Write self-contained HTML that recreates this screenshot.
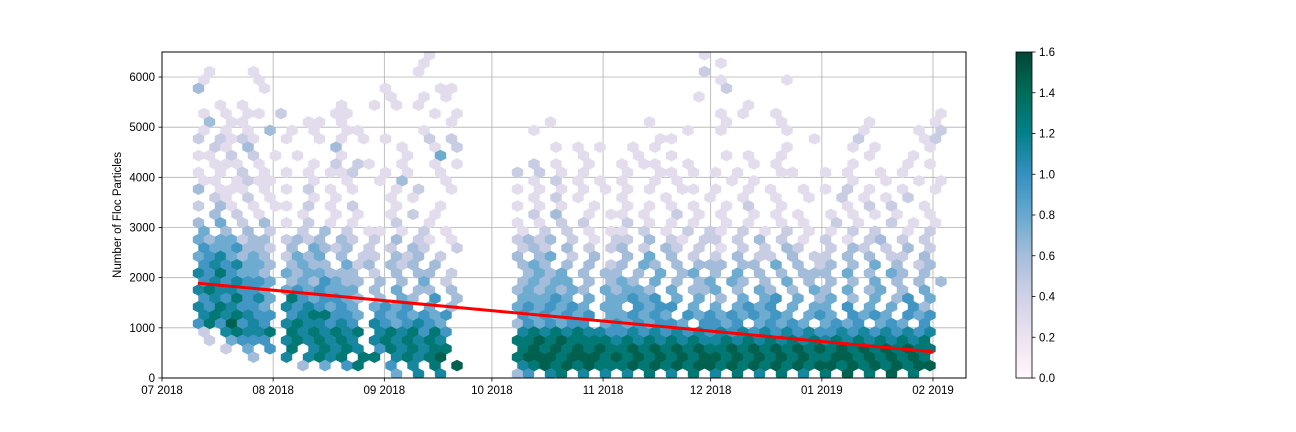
<!DOCTYPE html>
<html><head><meta charset="utf-8">
<style>
html,body{margin:0;padding:0;background:#fff;}
svg{display:block;font-family:"Liberation Sans","DejaVu Sans",sans-serif;}
</style></head>
<body>
<svg id="chart" width="1296" height="432" viewBox="0 0 1296 432" xmlns="http://www.w3.org/2000/svg">
<defs>
<linearGradient id="cmap" x1="0" y1="1" x2="0" y2="0">
<stop offset="0" stop-color="#fff7fb"/><stop offset="0.125" stop-color="#ece2f0"/><stop offset="0.25" stop-color="#d0d1e6"/><stop offset="0.375" stop-color="#a6bddb"/><stop offset="0.5" stop-color="#67a9cf"/><stop offset="0.625" stop-color="#3690c0"/><stop offset="0.75" stop-color="#02818a"/><stop offset="0.875" stop-color="#016c59"/><stop offset="1" stop-color="#014636"/>
</linearGradient>
<clipPath id="plotclip"><rect x="162" y="52" width="804" height="326"/></clipPath>
</defs>
<g id="grid"></g>
<g id="hexes" clip-path="url(#plotclip)"></g>
<g id="trend"></g>
<rect x="162" y="52" width="804" height="326" fill="none" stroke="#000" stroke-width="1"/>
<g id="axes"></g>
<text x="121" y="215" transform="rotate(-90 121 215)" text-anchor="middle" font-size="11.5">Number of Floc Particles</text>
<rect x="1016" y="52" width="16" height="326" fill="url(#cmap)" stroke="#000" stroke-width="0.8"/>
<g id="cbticks"></g>
</svg>
<script>
// ---- data ----
const xTickLabels = ["07 2018","08 2018","09 2018","10 2018","11 2018","12 2018","01 2019","02 2019"];
const xTickDays = [0,31,62,92,123,153,184,215]; // days since 2018-07-01
const yTicks = [0,1000,2000,3000,4000,5000,6000];
const cbTicks = [0.0,0.2,0.4,0.6,0.8,1.0,1.2,1.4,1.6];
const lineDays = [10,215];
const lineValues = [1890,520];
// segment widths in hex columns: Jul, Aug, Sep, gap, Oct, Nov, Dec, Jan
const segWidths = [8,8,8,5,9,9,10,11];
// hexbin rows, top (row 38) to bottom (row 0); digit d = density level, '.' = empty
const hexRows = [
"........|........|.....1..||.........|........1|..........|...........",
"........|........|....1...||.........|.........|1.........|...........",
".1...1..|........|....1...||.........|........2|..........|...........",
"1....1..|........|........||.........|.........|1.....1...|...........",
"3.....1.|........|.1....11||.........|.........|.2........|...........",
"........|........|.1..1.1.||.........|.......1.|..........|...........",
"..1.1...|.....1..|1.1.1...||.........|.........|...1......|...........",
"1.1.11.2|....11..|.....1.1||.........|.........|1.1..1....|..........1",
".3.11...|..11.1..|.......1||...1.....|...1.....|.1....1...|....1.....1",
"1.1.1.3.|1.1..11.|....1...||.1.......|......1..|1.....1...|...1....1.2",
"2.2121..|1..1.1.1|.1...2.2||.........|....11...|.........1|...2.....12",
".21.3...|....3...|..1..1.2||...1.1.1.|.1.1.....|......1...|..1.1....1.",
"11.2.2.1|.1...1..|...1..4.||......1..|..1..1...|.1.1..1...|....1...1..",
".111.1..|..1.2.21|..1..1.1||.2.1..1..|1.11..1..|...1.1....|..1....1.1.",
"1.1.2.1.|1.1.112.|.1.1..1.||2.2.1.1..|.1..11.1.|1.1...11..|1.1..1.1...",
"11.1211.|..1..1..|1.3...1.||.1.2.1.1.|1..1.1...|.1.1......|..1..1..1.1",
"3.111.1.|1.2.1.1.|..1.2..1||1.1.1.1.1|.1.1..11.|1..1.1..1.|1.2.1..1..1",
".21.2.1.|..1.1...|.1.1....||.1.2.1...|1...1...1|..1..1..1.|.2.1.1.2...",
"2.31.1.1|1.2.1.2.|..1...1.||1.1.1..1.|.1.1.1.1.|.1.2..1...|..1.2.2..1.",
".3.2.1..|.1..1.1.|.1.2.1..||.2.3..1.1|1.1..2.1.|1..1.1.1..|1.1.1.1..1.",
"3.4.2.3.|1.2.1.1.|..2..1..||1.1.2.2..|.2.1.1.1.|.1.1..1.1.|.2.1..2.1.1",
"4.3.3.2.|.2.3.2.1|1.1.2.1.||1.2.2.1.1|1.2.1.2.2|1.2.1.2.1.|1.2.2..1.2.",
"4344233.|2323.32.|2.3.21.1||2323.2.1.|22.3.21.2|2.2.3.2.1.|2.1.23.2.2.",
"5445332.|3.4323.2|.2.32..2||232.3.2.2|3.2.32.2.|1.2.2.32..|2.32.2.3.2.",
"4564343.|2434.3.2|2.323.2.||3.34.2.3.|.3.4.3.2.|2.3.22.3.2|2.3.3.22.3.",
"5656443.|3433.423|.323.3..||343.3.3.2|3.43.3.33|3.33.4.3.2|3.3.4.3.23.",
"6575443.|4344333.|2.3.33.2||.3434.3.3|3.3.4.34.|3.4.3.3.33|3.4.3.43.3.",
"5656554.|3435433.|3.3.4.2.||34344.3.3|43.4.3.34|.43.3.4.3.|3.3.4.3.3.3",
"6766554.|4545444.|3.4.33.3||3434343.4|3443.4.33|4.3.43.3.4|3.4.34.3.4.",
"5657564.|7545543.|3.43.5.3||44454.4.4|4545.4.4.|3.4.45.4.3|4.3.4.35.4.",
"6576554.|6565454.|4545.4.3||4545454.4|4.5455.4.|4.4545.4.4|4.5.4.4.53.",
"6767655.|5677554.|5454545.||5454545.4|45454.545|4545454.45|4.5454.545.",
"5758565.|6766565.|6545654.||3545455.4|5454554.5|545.45454.|4545.454.5.",
"2.67667.|7676767.|6767575.||676767665|565656565|6565656565|5656565656.",
".2.4555.|6767676.|6767676.||778787777|676767676|6767676767|6767676767.",
"..2.4.5.|7.67676.|5767677.||787878787|787878787|7878787878|7878787877.",
".....3..|6.6767.7|7.67678.||788878887|878787878|8787878787|7887878787.",
"........|.3.4.57.|.5.6.7.8||678787877|787878788|7878787878|8787878788.",
"........|........|..4.6.6.||35.67.6.6|.6.7.6.7.|6.7.6.7.6.|7.8.7.8.7.."
];

// ---- scales ----
const x0px = 162, pxPerDay = 771/215;
function xScale(d){ return x0px + d*pxPerDay; }
function yScale(v){ return 378 - v*(301/6000); }
const colStep = 11, colStart = 198.5, rowStep = 8.4, rowStart = 374;
function hexCx(col,row){ return colStart + col*colStep + (row%2 ? 5.5 : 0); }
function hexCy(row){ return rowStart - row*rowStep; }
function cbScale(v){ return 378 - v/1.6*326; }
function levelValue(d){ return Math.min(1.6, 0.17*d + 0.1); }

const stops = [[0,[255,247,251]],[0.125,[236,226,240]],[0.25,[208,209,230]],[0.375,[166,189,219]],[0.5,[103,169,207]],[0.625,[54,144,192]],[0.75,[2,129,138]],[0.875,[1,108,89]],[1,[1,70,54]]];
function cmap(t){
  t=Math.max(0,Math.min(1,t));
  for(let i=1;i<stops.length;i++){
    if(t<=stops[i][0]){
      const a=stops[i-1],b=stops[i],f=(t-a[0])/(b[0]-a[0]);
      const c=a[1].map((v,j)=>Math.round(v+(b[1][j]-v)*f));
      return `rgb(${c[0]},${c[1]},${c[2]})`;
    }
  }
  return "rgb(1,70,54)";
}
const NS="http://www.w3.org/2000/svg";
function mk(tag,attrs,parent){const e=document.createElementNS(NS,tag);for(const k in attrs)e.setAttribute(k,attrs[k]);parent.appendChild(e);return e;}

// grid + axes
const grid=document.getElementById('grid'), axes=document.getElementById('axes');
xTickDays.forEach((d,i)=>{
  const x=xScale(d);
  const g=mk('line',{x1:x,x2:x,y1:52,y2:378,stroke:'#b0b0b0','stroke-width':0.8},grid);
  
  
  const t=mk('line',{x1:x,x2:x,y1:378,y2:381.5,stroke:'#000','stroke-width':0.8},axes);
  
  
  const l=mk('text',{x:x,y:394,'text-anchor':'middle','font-size':11.5},axes);
  l.textContent=xTickLabels[i];
  
  
});
yTicks.forEach(v=>{
  const y=yScale(v);
  const g=mk('line',{x1:162,x2:966,y1:y,y2:y,stroke:'#b0b0b0','stroke-width':0.8},grid);
  
  
  const t=mk('line',{x1:158.5,x2:162,y1:y,y2:y,stroke:'#000','stroke-width':0.8},axes);
  
  
  const l=mk('text',{x:155,y:y+4,'text-anchor':'end','font-size':11.5},axes);
  l.textContent=String(v);
  
  
});

// hexes
const hexG=document.getElementById('hexes');
const nRows=hexRows.length;
hexRows.forEach((str,ri)=>{
  const row=nRows-1-ri;
  const segs=str.split('|');
  let line='';
  segWidths.forEach((w,si)=>{ line += ((segs[si]||'')+'.'.repeat(w)).slice(0,w); });
  for(let c=0;c<line.length;c++){
    const ch=line[c];
    if(ch<'0'||ch>'9') continue;
    const v=levelValue(+ch);
    const cx=hexCx(c,row), cy=hexCy(row), h=5.6, w=5.5;
    const pts=[[cx,cy-h],[cx+w,cy-h/2],[cx+w,cy+h/2],[cx,cy+h],[cx-w,cy+h/2],[cx-w,cy-h/2]].map(p=>p.join(',')).join(' ');
    const p=mk('polygon',{points:pts,fill:cmap(v/1.6),stroke:cmap(v/1.6),'stroke-width':0.4},hexG);
    
    
  }
});

// trend line
const tr=document.getElementById('trend');
const ln=mk('line',{x1:xScale(lineDays[0]),y1:yScale(lineValues[0]),x2:xScale(lineDays[1]),y2:yScale(lineValues[1]),stroke:'#ff0000','stroke-width':3},tr);



// colorbar ticks
const cb=document.getElementById('cbticks');
cbTicks.forEach(v=>{
  const y=cbScale(v);
  const t=mk('line',{x1:1032,x2:1035.5,y1:y,y2:y,stroke:'#000','stroke-width':0.8},cb);
  
  
  const l=mk('text',{x:1039,y:y+4,'font-size':11.5},cb);
  l.textContent=v.toFixed(1);
  
  
});
</script>
</body></html>
